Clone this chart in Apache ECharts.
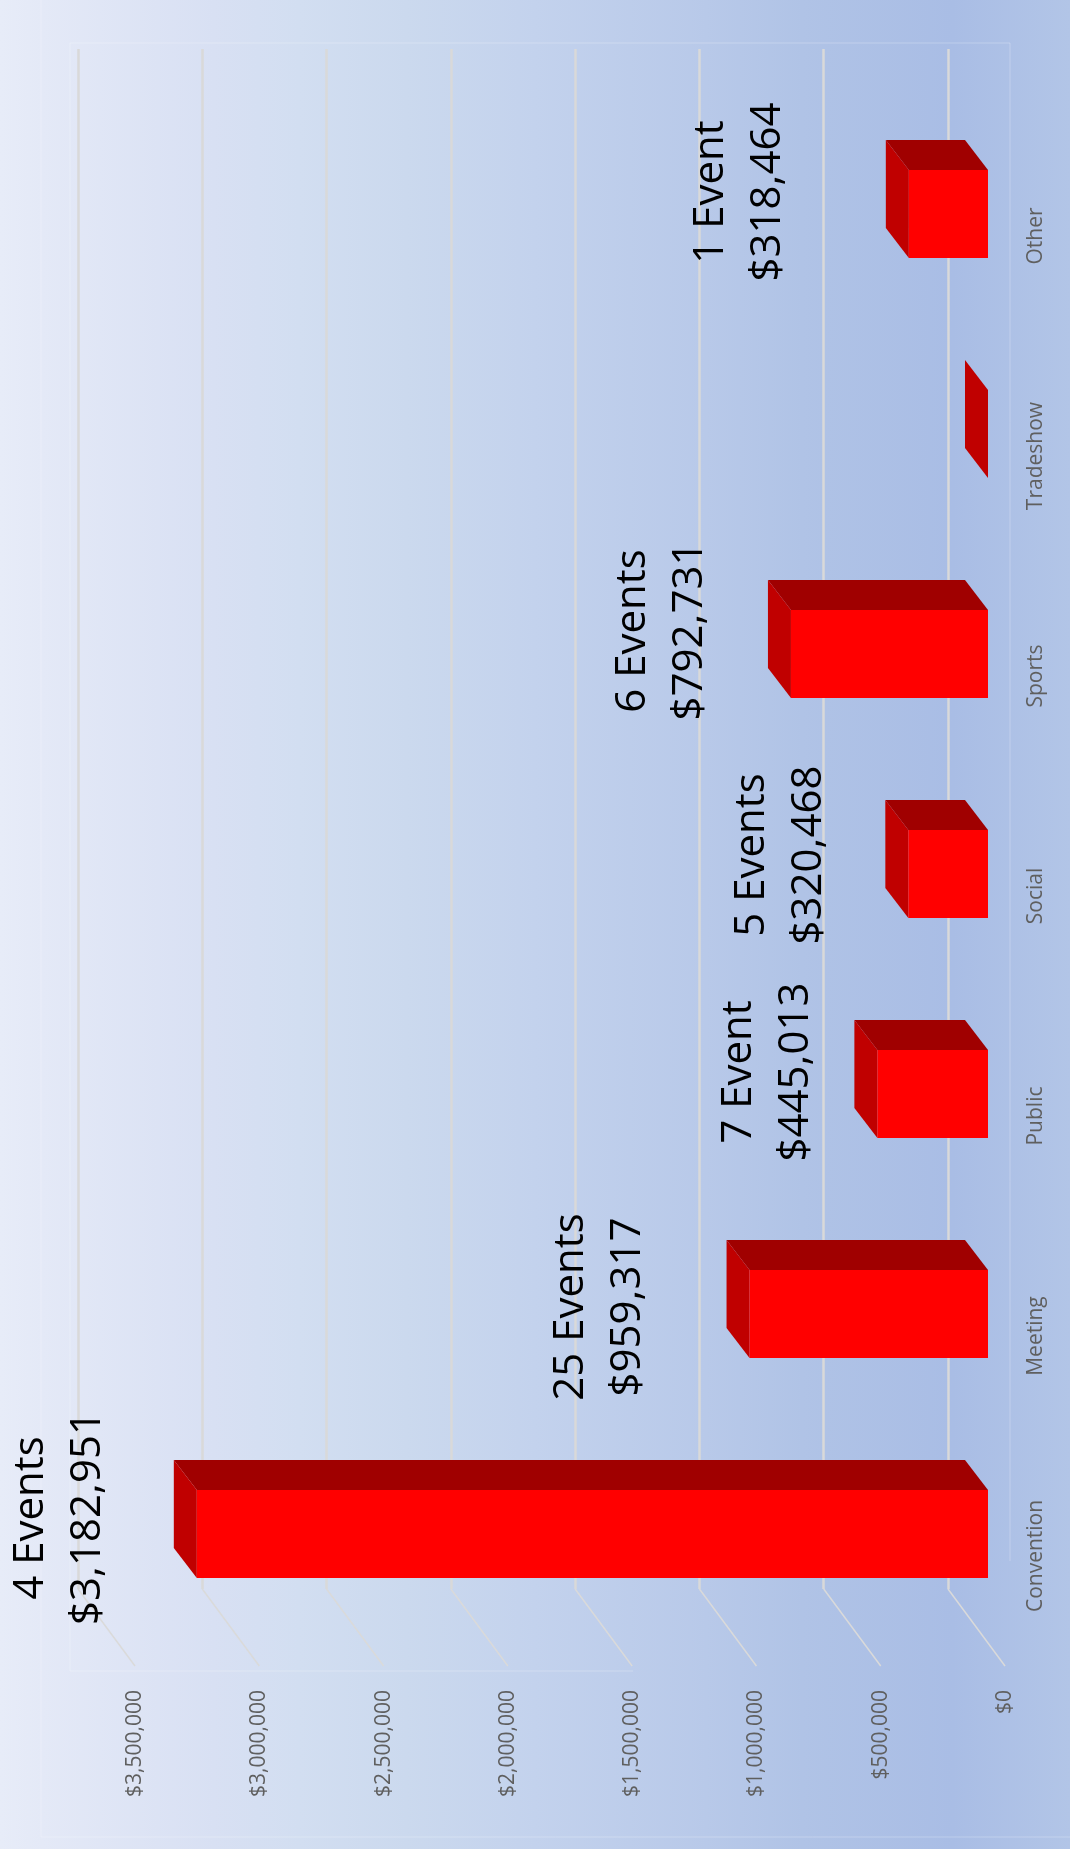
<!DOCTYPE html>
<html>
<head>
<meta charset="utf-8">
<title>Events by type</title>
<style>
html, body { margin: 0; padding: 0; }
#chart { width: 1070px; height: 1849px; }
</style>
<script src="https://cdn.jsdelivr.net/npm/echarts@6/dist/echarts.min.js"></script>
</head>
<body>
<div id="chart"></div>
<script>
// Chart data
var categories = ['Convention', 'Meeting', 'Public', 'Social', 'Sports', 'Tradeshow', 'Other'];
var revenue = [3182951, 959317, 445013, 320468, 792731, 0, 318464];
var eventLabels = ['4 Events', '25 Events', '7 Event', '5 Events', '6 Events', '', '1 Event'];
var valueTicks = [0, 500000, 1000000, 1500000, 2000000, 2500000, 3000000, 3500000];

// Hand placed annotations, offset in px from the end of each bar
var labelOffsetX = [-137, -150, -110, -128, -129, 0, -169];
var labelOffsetY = [-16, -7, -22, -19, -23, 0, -22];

// Fake 3D: axes sit on the back wall, floor runs towards the viewer
var floorDx = 57, floorDy = 77;
var barFrontDx = 40, barFrontDy = 55;
var barDepthDx = 23, barDepthDy = 30;
var barHalf = 44;
var fontFamily = '"Open Sans", sans-serif';

function money(v) {
  return '$' + Number(v).toLocaleString('en-US');
}

var chart = echarts.init(document.getElementById('chart'));

function renderBar(params, api) {
  var end = api.coord([api.value(0), api.value(1)]);
  var base = api.coord([0, api.value(1)]);
  var xEnd = end[0] + barFrontDx, xBase = base[0] + barFrontDx;
  var yMid = end[1] + barFrontDy;
  var yTop = yMid - barHalf, yBot = yMid + barHalf;
  return {
    type: 'group',
    children: [
      {
        type: 'polygon',
        shape: { points: [[xEnd, yTop], [xBase, yTop], [xBase - barDepthDx, yTop - barDepthDy], [xEnd - barDepthDx, yTop - barDepthDy]] },
        style: { fill: '#a00000' }
      },
      {
        type: 'polygon',
        shape: { points: [[xEnd, yTop], [xEnd, yBot], [xEnd - barDepthDx, yBot - barDepthDy], [xEnd - barDepthDx, yTop - barDepthDy]] },
        style: { fill: '#c00000' }
      },
      {
        type: 'rect',
        shape: { x: xEnd, y: yTop, width: xBase - xEnd, height: yBot - yTop },
        style: { fill: '#ff0000' }
      }
    ]
  };
}

function renderFloorLine(params, api) {
  var p = api.coord([api.value(0), 0]);
  var rect = params.coordSys;
  var y = rect.y + rect.height;
  return {
    type: 'line',
    shape: { x1: p[0], y1: y, x2: p[0] + floorDx, y2: y + floorDy },
    style: { stroke: '#dadada', lineWidth: 1.5 }
  };
}

function renderLabel(params, api) {
  var i = params.dataIndex;
  if (!eventLabels[i]) return null;
  var p = api.coord([api.value(0), api.value(1)]);
  return {
    type: 'text',
    x: p[0] + barFrontDx + labelOffsetX[i],
    y: p[1] + barFrontDy + labelOffsetY[i],
    rotation: Math.PI / 2,
    style: {
      text: eventLabels[i] + '\n' + money(revenue[i]),
      align: 'center',
      verticalAlign: 'middle',
      fontFamily: fontFamily,
      fontSize: 42,
      lineHeight: 57,
      fill: '#000000'
    }
  };
}

function frameLine(x1, y1, x2, y2) {
  return {
    type: 'line',
    silent: true,
    shape: { x1: x1, y1: y1, x2: x2, y2: y2 },
    style: { stroke: 'rgba(255,255,255,0.25)', lineWidth: 1 }
  };
}

var barData = revenue.map(function (v, i) { return [v, i]; });

var option = {
  animation: false,
  backgroundColor: {
    type: 'linear', x: 0, y: 0, x2: 1, y2: 0,
    colorStops: [
      { offset: 0, color: '#e7ecf8' },
      { offset: 0.04, color: '#e4e9f7' },
      { offset: 0.2, color: '#d8e0f3' },
      { offset: 0.28, color: '#d2def1' },
      { offset: 0.38, color: '#cbd9ee' },
      { offset: 0.5, color: '#c3d2ed' },
      { offset: 0.66, color: '#b8c9e9' },
      { offset: 0.75, color: '#b0c3e6' },
      { offset: 0.89, color: '#a9bde5' },
      { offset: 1, color: '#b2c5e7' }
    ]
  },
  graphic: [
    frameLine(70, 43, 1010, 43),
    frameLine(70, 43, 70, 1671),
    frameLine(70, 1671, 633, 1671),
    frameLine(1010, 43, 1010, 1561),
    frameLine(41, 0, 41, 1837),
    frameLine(41, 1837, 1070, 1837)
  ],
  grid: [
    // back wall
    { left: 78, top: 49, width: 870, height: 1540 },
    // front edge of the floor, only carries the labels
    { left: 135, top: 126, width: 870, height: 1540 }
  ],
  xAxis: [
    {
      gridIndex: 0, type: 'value', inverse: true, min: 0, max: 3500000, interval: 500000,
      axisLine: { show: false }, axisTick: { show: false }, axisLabel: { show: false },
      splitLine: { show: true, lineStyle: { color: '#d9d9d9', width: 2.5 } }
    },
    {
      gridIndex: 1, type: 'value', inverse: true, min: 0, max: 3500000, interval: 500000,
      axisLine: { show: false }, axisTick: { show: false }, splitLine: { show: false },
      axisLabel: {
        rotate: 90, margin: 24, color: '#5f5f5f', fontFamily: fontFamily, fontSize: 21,
        formatter: money
      }
    }
  ],
  yAxis: [
    {
      gridIndex: 0, type: 'category', data: categories,
      axisLine: { show: false }, axisTick: { show: false }, axisLabel: { show: false }, splitLine: { show: false }
    },
    {
      gridIndex: 1, type: 'category', data: categories, position: 'right',
      axisLine: { show: false }, axisTick: { show: false }, splitLine: { show: false },
      axisLabel: {
        rotate: 90, margin: 21, color: '#5f5f5f', fontFamily: fontFamily, fontSize: 21
      }
    }
  ],
  series: [
    {
      type: 'custom', name: 'Floor', xAxisIndex: 0, yAxisIndex: 0, clip: false, silent: true,
      data: valueTicks.map(function (v) { return [v]; }),
      encode: { x: 0 },
      renderItem: renderFloorLine
    },
    {
      type: 'custom', name: 'Revenue', xAxisIndex: 0, yAxisIndex: 0, clip: false,
      data: barData,
      encode: { x: 0, y: 1 },
      renderItem: renderBar
    },
    {
      type: 'custom', name: 'Labels', xAxisIndex: 0, yAxisIndex: 0, clip: false, silent: true, z: 5,
      data: barData,
      encode: { x: 0, y: 1 },
      renderItem: renderLabel
    }
  ]
};

chart.setOption(option);

window.addEventListener('resize', function () {
  chart.resize();
});
</script>
</body>
</html>
